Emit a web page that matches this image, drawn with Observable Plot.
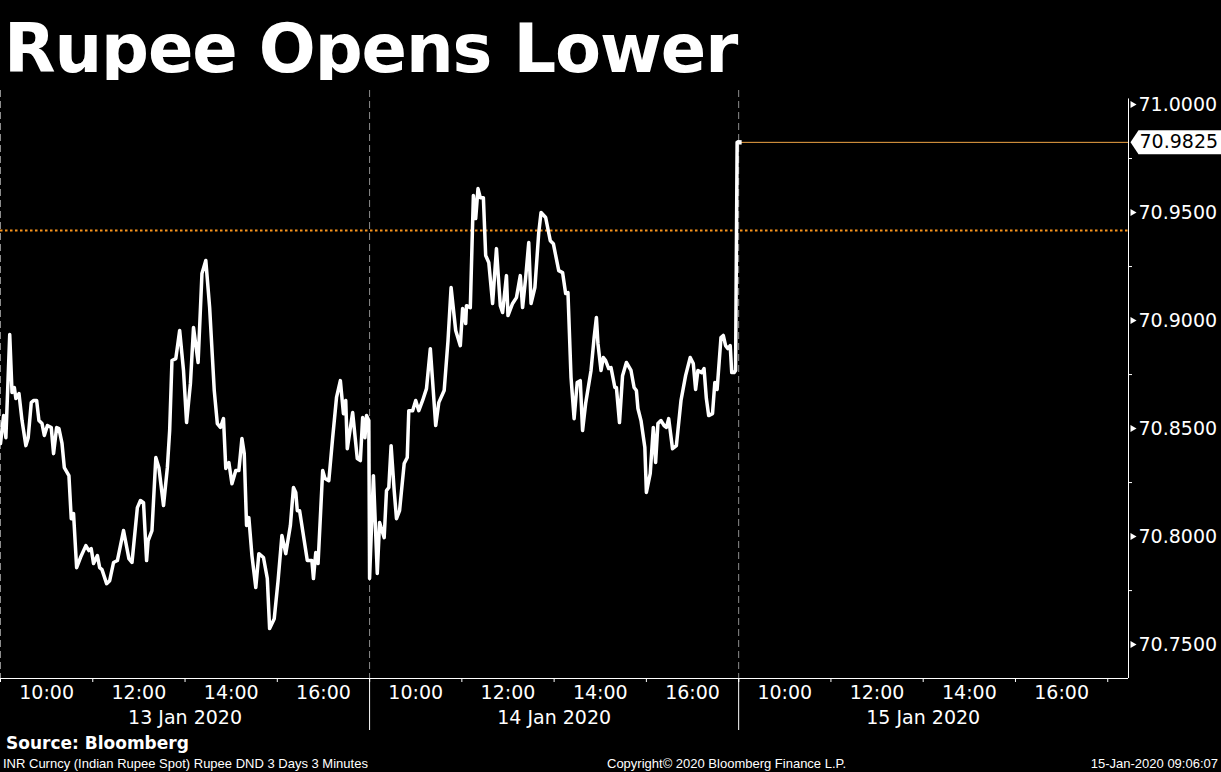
<!DOCTYPE html>
<html><head><meta charset="utf-8">
<script src="https://cdn.jsdelivr.net/npm/d3@7"></script>
<script src="https://cdn.jsdelivr.net/npm/@observablehq/plot@0.6"></script>
<style>
body{margin:0;background:#000;width:1221px;height:772px;overflow:hidden;position:relative;font-family:"DejaVu Sans",sans-serif;color:#fff}
#title{position:absolute;left:4px;top:16px;font:bold 67px/1 "DejaVu Sans";letter-spacing:-1.1px;white-space:nowrap}
#chart{position:absolute;left:0;top:80px}
#source{position:absolute;left:6px;top:735px;font:bold 17px/1 "DejaVu Sans"}
.foot{position:absolute;top:757px;font:13px/1 "Liberation Sans";white-space:nowrap}
</style></head><body>
<div id="title">Rupee Opens Lower</div>
<div id="chart"></div>
<div id="source">Source: Bloomberg</div>
<div class="foot" style="left:3px">INR Curncy (Indian Rupee Spot) Rupee DND 3 Days 3 Minutes</div>
<div class="foot" style="left:607px">Copyright© 2020 Bloomberg Finance L.P.</div>
<div class="foot" style="right:3px">15-Jan-2020 09:06:07</div>
<script>
const days = ["13 Jan 2020", "14 Jan 2020", "15 Jan 2020"];
// minutes since 09:00 session open, and INR spot values
const day1Minutes = [0,4,7,12,15,18,20,24,28,33,36,40,43,47,50,54,57,61,66,69,73,76,80,83,89,92,95,99,104,111,115,118,121,126,129,132,138,142,147,152,160,167,171,178,182,186,190,192,197,202,206,212,217,220,223,228,233,238,242,247,251,257,262,267,272,278,282,286,290,293,297,301,306,310,314,317,320,323,327,332,336,342,347,350,356,361,366,371,377,381,384,386,389,399,405,407,410,413,419,422,427,432,437,442,446,449,451,458,464,468,471,474,476,479];
const day1Values = [70.8431,70.8560,70.8458,70.8935,70.8667,70.8690,70.8639,70.8662,70.8537,70.8421,70.8458,70.8620,70.8630,70.8630,70.8537,70.8523,70.8468,70.8514,70.8505,70.8384,70.8505,70.8500,70.8431,70.8319,70.8282,70.8083,70.8106,70.7856,70.7903,70.7958,70.7935,70.7944,70.7875,70.7912,70.7856,70.7847,70.7782,70.7796,70.7880,70.7889,70.8028,70.7898,70.7880,70.8134,70.8167,70.8157,70.7889,70.7981,70.8028,70.8366,70.8319,70.8144,70.8319,70.8491,70.8815,70.8824,70.8954,70.8769,70.8528,70.8708,70.8968,70.8806,70.9218,70.9278,70.9060,70.8676,70.8523,70.8505,70.8546,70.8315,70.8343,70.8245,70.8306,70.8306,70.8454,70.8384,70.8051,70.8088,70.7912,70.7764,70.7921,70.7903,70.7806,70.7574,70.7620,70.7796,70.8005,70.7921,70.8051,70.8227,70.8204,70.8120,70.8120,70.7889,70.7889,70.7806,70.7926,70.7875,70.8306,70.8269,70.8259,70.8458,70.8644,70.8722,70.8569,70.8630,70.8407,70.8574,70.8361,70.8352,70.8551,70.8458,70.8560,70.8537];
const day2Minutes = [0,5,10,13,19,22,25,28,32,35,39,45,49,51,56,60,64,69,74,79,86,90,97,102,106,112,118,121,125,126,131,135,138,141,144,148,151,155,160,165,170,173,178,180,186,191,196,199,203,207,210,215,220,223,229,235,239,246,251,255,258,262,266,270,274,277,281,288,292,295,297,301,304,307,311,314,319,321,325,329,334,340,344,347,349,353,358,360,365,369,372,375,379,383,386,389,394,399,405,411,417,421,424,427,432,435,438,441,446,449,452,457,460,463,466,469,471,474,476];
const day2Values = [70.7806,70.8282,70.7829,70.8065,70.7995,70.8213,70.8227,70.8421,70.8213,70.8083,70.8120,70.8338,70.8366,70.8583,70.8583,70.8630,70.8583,70.8630,70.8685,70.8870,70.8514,70.8620,70.8676,70.8907,70.9153,70.8954,70.8884,70.9056,70.8986,70.9069,70.9060,70.9579,70.9472,70.9611,70.9569,70.9569,70.9301,70.9269,70.9079,70.9333,70.9069,70.9037,70.9208,70.9023,70.9079,70.9106,70.9208,70.9060,70.9199,70.9361,70.9079,70.9153,70.9407,70.9500,70.9477,70.9370,70.9356,70.9231,70.9222,70.9125,70.9130,70.8736,70.8546,70.8713,70.8722,70.8491,70.8616,70.8769,70.8921,70.9014,70.8894,70.8769,70.8829,70.8815,70.8778,70.8782,70.8690,70.8690,70.8528,70.8745,70.8806,70.8769,70.8690,70.8676,70.8593,70.8537,70.8412,70.8204,70.8292,70.8505,70.8343,70.8523,70.8537,70.8514,70.8505,70.8546,70.8407,70.8421,70.8630,70.8745,70.8829,70.8801,70.8681,70.8769,70.8759,70.8778,70.8639,70.8560,70.8569,70.8713,70.8681,70.8921,70.8931,70.8884,70.8870,70.8884,70.8759,70.8759,70.8769];
const day3Minutes = [-2, 1];
const day3Values = [70.9825, 70.9825];
const previousClose = 70.9417;
const yTicks = [70.75, 70.80, 70.85, 70.90, 70.95, 71.00];
const yMinorTicks = [70.775, 70.825, 70.875, 70.925, 70.975];
const labelHours = [10, 12, 14, 16];
const minorHours = [9, 11, 13, 15, 17];
const dateHour = 13;

const SESSION = 480, OPEN = 9;
const xMax = 1467;                 // right edge of the time axis (day 3, ~17:27)
const yDomain = [70.7343, 71.0065];

const series = [];
[[day1Minutes, day1Values], [day2Minutes, day2Values], [day3Minutes, day3Values]].forEach(([mins, vals], d) =>
  mins.forEach((m, i) => series.push({t: d * SESSION + m, v: vals[i]})));
const last = series[series.length - 1];
const pos = h => d3.range(days.length).map(d => d * SESSION + (h - OPEN) * 60);
const labelTicks = labelHours.flatMap(pos).sort((a, b) => a - b);
const minorTicks = minorHours.flatMap(pos).sort((a, b) => a - b);
const dayStarts = d3.range(days.length).map(d => d * SESSION);
const fmtHour = m => `${String(OPEN + (m % SESSION) / 60).padStart(2, "0")}:00`;

const flag = {draw(ctx) {
  ctx.moveTo(2, 0); ctx.lineTo(10, -12); ctx.lineTo(93, -12); ctx.lineTo(93, 12); ctx.lineTo(10, 12); ctx.closePath();
}};

const chart = Plot.plot({
  width: 1221, height: 660,
  marginLeft: 0, marginRight: 93, marginTop: 10, marginBottom: 62,
  x: {domain: [0, xMax]},
  y: {domain: yDomain},
  style: {background: "black", color: "white", fontFamily: "DejaVu Sans", fontSize: "19px", overflow: "visible"},
  marks: [
    Plot.ruleX(dayStarts, {stroke: "#8c8c8c", strokeWidth: 1, strokeDasharray: "7,4"}),
    Plot.ruleY([previousClose], {stroke: "#f7941d", strokeWidth: 2, strokeDasharray: "2.5,2.5"}),
    Plot.ruleY([last], {y: "v", x1: "t", x2: () => xMax, stroke: "#f0a445", strokeWidth: 1}),
    Plot.line(series, {x: "t", y: "v", stroke: "white", strokeWidth: 3.5, strokeLinejoin: "round"}),
    Plot.dot([last], {x: "t", y: "v", r: 2.5, fill: "white", symbol: "square"}),
    Plot.ruleY([yDomain[0]], {stroke: "white", strokeWidth: 1}),
    Plot.ruleX([xMax], {y1: yDomain[0], y2: 71.0026, stroke: "white", strokeWidth: 1}),
    Plot.axisX({ticks: minorTicks, tickSize: 4, tickFormat: () => "", label: null}),
    Plot.axisX({ticks: dayStarts.slice(1), tickSize: 52, tickFormat: () => "", label: null}),
    Plot.axisX({ticks: labelTicks, tickSize: 0, tickPadding: 7, tickFormat: fmtHour, fontSize: 19, label: null}),
    Plot.axisX({ticks: pos(dateHour), tickSize: 0, tickPadding: 32, tickFormat: m => days[Math.floor(m / SESSION)], fontSize: 19, label: null}),
    Plot.axisY({anchor: "right", ticks: yMinorTicks, tickSize: 3, tickFormat: () => "", label: null}),
    Plot.axisY({anchor: "right", ticks: yTicks, tickSize: 0, tickPadding: 10, tickFormat: d => d.toFixed(4), fontSize: 19, label: null}),
    Plot.dot(yTicks, {x: () => xMax, y: d => d, symbol: "triangle", rotate: 90, r: 2.6, fill: "white", dx: 4}),
    Plot.dot([last], {x: () => xMax, y: "v", symbol: flag, fill: "white"}),
    Plot.text([last], {x: () => xMax, y: "v", text: d => d.v.toFixed(4), dx: 11, textAnchor: "start", fill: "black", fontSize: 19})
  ]
});
document.getElementById("chart").appendChild(chart);
</script>
</body></html>
